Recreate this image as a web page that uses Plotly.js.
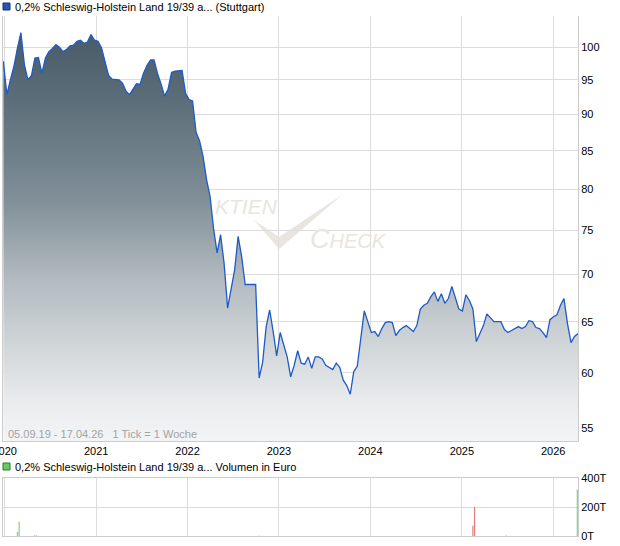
<!DOCTYPE html>
<html><head><meta charset="utf-8">
<script src="https://cdn.plot.ly/plotly-3.0.1.min.js"></script>
<style>html,body{margin:0;padding:0;background:#fff;}#chart{width:620px;height:546px;}</style>
</head><body><div id="chart"></div>
<script>
// ---- data ----
const startDate = '2019-12-27';
const stepDays = 14;
const priceValues = [
  97.8, 92.8, 95.0, 97.0, 99.8, 102.3, 97.3, 95.0, 95.6, 98.3,
  98.4, 96.0, 98.3, 99.3, 99.8, 100.4, 100.0, 99.3, 99.6, 100.2,
  100.3, 100.9, 101.1, 100.6, 100.8, 102.0, 101.1, 100.9, 99.9, 97.7,
  95.7, 95.1, 95.0, 95.0, 94.5, 93.3, 92.8, 93.6, 94.4, 94.3,
  96.0, 97.2, 98.0, 98.0, 95.9, 94.4, 92.6, 93.6, 96.1, 96.3,
  96.4, 96.4, 93.0, 92.1, 91.9, 87.5, 86.3, 84.2, 81.2, 79.1,
  75.2, 72.4, 74.5, 71.2, 66.4, 68.6, 70.5, 74.3, 72.0, 68.9,
  68.9, 68.9, 68.9, 59.5, 61.0, 64.5, 66.2, 64.0, 61.6, 63.9,
  62.7, 61.5, 59.6, 60.7, 62.1, 60.9, 60.8, 61.5, 60.4, 61.5,
  61.5, 61.3, 60.7, 60.5, 60.3, 60.9, 60.5, 59.3, 58.8, 58.0,
  60.1, 60.6, 63.5, 66.1, 65.0, 63.9, 64.0, 63.5, 64.3, 64.9,
  65.0, 64.9, 63.6, 64.1, 64.4, 64.6, 64.3, 64.0, 64.6, 66.3,
  66.7, 66.9, 67.6, 68.1, 67.1, 67.9, 66.9, 67.4, 68.7, 67.4,
  66.3, 66.1, 67.8, 67.2, 66.3, 63.0, 63.8, 64.6, 65.8, 65.4,
  65.0, 65.0, 65.0, 64.2, 63.9, 64.1, 64.3, 64.5, 64.3, 64.5,
  65.1, 65.0, 64.4, 64.3, 63.9, 63.4, 65.2, 65.5, 65.7, 66.7,
  67.4, 64.8, 62.9, 63.5, 63.8
];
const volDates = ['2020-02-21','2020-02-28','2020-05-01','2020-05-08','2022-10-14','2025-02-14','2025-02-21','2025-06-27','2026-04-07'];
const volValues = [30000, 100000, 5000, 3000, 2000, 70000, 200000, 3000, 320000];
const volDirection = ['up','up','up','down','down','down','down','up','up'];
const priceTicks = [55, 60, 65, 70, 75, 80, 85, 90, 95, 100];
const volTicks = [0, 200000, 400000];
const volTickText = ['0T', '200T', '400T'];
const xRange = ['2019-12-25 12:00', '2026-04-10'];
const priceRange = [53.9, 105];
const priceFloor = 53.5;
const title1 = '0,2% Schleswig-Holstein Land 19/39 a... (Stuttgart)';
const title2 = '0,2% Schleswig-Holstein Land 19/39 a... Volumen in Euro';
const rangeText = '05.09.19 - 17.04.26\u00A0\u00A0\u00A01 Tick = 1 Woche';

// ---- build ----
function addDays(d, n) {
  const t = new Date(d + 'T00:00:00Z');
  t.setUTCDate(t.getUTCDate() + n);
  return t.toISOString().slice(0, 10);
}
const priceDates = priceValues.map((_, i) => addDays(startDate, i * stepDays));
const floorValues = priceDates.map(() => priceFloor);

const gridC = '#dcdcdc', lineC = '#cccccc';
const fontFam = 'Liberation Sans, Arial, sans-serif';

const traces = [
  {x: priceDates, y: floorValues, type: 'scatter', mode: 'lines', line: {width: 0, color: 'rgba(0,0,0,0)'},
   hoverinfo: 'skip', xaxis: 'x', yaxis: 'y'},
  {x: priceDates, y: priceValues, type: 'scatter', mode: 'lines', fill: 'tonexty',
   line: {color: '#1f5bc6', width: 1.3, shape: 'linear'},
   fillgradient: {type: 'vertical', colorscale: [[0, '#f4f5f7'], [0.11, '#e9ebed'], [0.4, '#b3bbc0'], [0.6, '#7f8e97'], [0.85, '#5a6c78'], [1, '#4a5b67']]},
   xaxis: 'x', yaxis: 'y'},
  {x: volDates, y: volValues, type: 'bar', width: 4 * 86400000,
   marker: {color: volDirection.map(d => d === 'up' ? '#66cc66' : '#e06666'), line: {width: 0}},
   xaxis: 'x2', yaxis: 'y2'}
];

const P = (px) => (px - 3) / 575;
const Q = (py) => (536 - py) / 520;

const layout = {
  width: 620, height: 546,
  margin: {l: 3, r: 42, t: 16, b: 10},
  paper_bgcolor: '#ffffff', plot_bgcolor: '#ffffff',
  showlegend: false,
  font: {family: fontFam, size: 11, color: '#000'},
  xaxis: {type: 'date', range: xRange, anchor: 'y', domain: [0, 1], tick0: '2020-01-01', dtick: 'M12', tickformat: '%Y',
          showgrid: true, gridcolor: gridC, showline: true, linecolor: lineC, ticks: '', zeroline: false,
          ticklabeloverflow: 'allow', tickfont: {size: 11, color: '#000'}},
  yaxis: {type: 'log', range: [Math.log10(priceRange[0]), Math.log10(priceRange[1])], anchor: 'x', domain: [0.1827, 1], side: 'right',
          tickvals: priceTicks, ticktext: priceTicks.map(String), showgrid: true, gridcolor: gridC,
          showline: true, mirror: true, linecolor: lineC, ticks: '', zeroline: false, tickfont: {size: 11, color: '#000'}},
  xaxis2: {type: 'date', range: xRange, anchor: 'y2', domain: [0, 1], matches: 'x', tick0: '2020-01-01', dtick: 'M12',
           showticklabels: false, showgrid: true, gridcolor: gridC, showline: true, mirror: true, linecolor: lineC, ticks: '', zeroline: false},
  yaxis2: {range: [0, 400000], anchor: 'x2', domain: [0, 0.1115], side: 'right', tickvals: volTicks, ticktext: volTickText,
           showgrid: true, gridcolor: gridC, showline: true, mirror: true, linecolor: lineC, ticks: '', zeroline: false,
           tickfont: {size: 11, color: '#000'}},
  shapes: [
    {type: 'rect', xref: 'paper', yref: 'paper', x0: P(3), x1: P(10), y0: Q(10), y1: Q(3),
     fillcolor: '#2357b8', line: {color: '#1a2e5a', width: 1}},
    {type: 'rect', xref: 'paper', yref: 'paper', x0: P(3), x1: P(10), y0: Q(470), y1: Q(463),
     fillcolor: '#66cc66', line: {color: '#2d7a2d', width: 1}},
    {type: 'path', xref: 'paper', yref: 'paper', layer: 'between',
     path: `M ${P(254)} ${Q(220)} L ${P(279)} ${Q(237)} L ${P(342)} ${Q(195)} L ${P(279)} ${Q(249)} Z`,
     fillcolor: '#e9e5df', line: {width: 0}}
  ],
  annotations: [
    {xref: 'paper', yref: 'paper', x: P(13), y: Q(7), xanchor: 'left', yanchor: 'middle', showarrow: false,
     text: title1, font: {size: 11, color: '#000'}},
    {xref: 'paper', yref: 'paper', x: P(13), y: Q(467), xanchor: 'left', yanchor: 'middle', showarrow: false,
     text: title2, font: {size: 11, color: '#000'}},
    {xref: 'paper', yref: 'paper', x: P(6), y: Q(434), xanchor: 'left', yanchor: 'middle', showarrow: false,
     text: rangeText, font: {size: 11, color: '#a3a3a3'}},
    {xref: 'paper', yref: 'paper', x: P(213), y: Q(206), xanchor: 'left', yanchor: 'middle', showarrow: false,
     text: 'KTIEN', font: {size: 21, color: '#e9e5df', style: 'italic'}},
    {xref: 'paper', yref: 'paper', x: P(308), y: Q(239), xanchor: 'left', yanchor: 'middle', showarrow: false,
     text: '<span style="font-size:27px">C</span>HECK', font: {size: 20, color: '#e9e5df', style: 'italic'}}
  ]
};

Plotly.newPlot('chart', traces, layout, {staticPlot: true, displayModeBar: false});
</script>
</body></html>
